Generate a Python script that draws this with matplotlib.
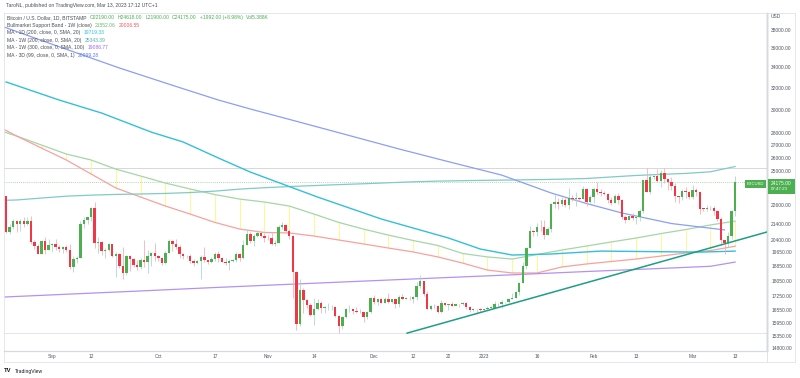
import numpy as np
import matplotlib
matplotlib.use("Agg")
import matplotlib.pyplot as plt
from matplotlib.ticker import NullLocator
from matplotlib.patches import Rectangle

plt.rcParams['font.family'] = ['Liberation Sans', 'DejaVu Sans']

W, H = 800, 378

# daily BTC/USD candles, day 0 = 2022-08-19 ... day 206 = 2023-03-13
first_open = 23210
close = [20840, 21150, 21530, 21400, 21530, 21370, 21570, 20250, 20040, 19560,
         20290, 19800, 20050, 20130, 19960, 19830, 19990, 19800, 18790, 19290,
         19320, 21370, 21650, 21830, 22400, 20180, 20230, 19700, 19800, 20110,
         19420, 19540, 18880, 18490, 19410, 19290, 18920, 18800, 19220, 19080,
         19410, 19590, 19420, 19310, 19060, 19630, 20340, 20160, 19960, 19530,
         19420, 19440, 19130, 19060, 19160, 19380, 19180, 19070, 19260, 19550,
         19330, 19120, 19040, 19160, 19200, 19570, 19330, 20090, 20770, 20290,
         20600, 20810, 20630, 20490, 20480, 20150, 20210, 21150, 21300, 20920,
         20600, 18540, 15880, 17590, 17070, 16810, 16330, 16620, 16900, 16660,
         16690, 16700, 16700, 16280, 15780, 16230, 16600, 16600, 16520, 16460,
         16440, 16220, 16440, 17170, 16980, 17090, 16890, 17110, 16970, 17090,
         16840, 17220, 17130, 17130, 17090, 17210, 17780, 18060, 17360, 16630,
         16780, 16740, 16440, 16900, 16820, 16830, 16780, 16840, 16830, 16920,
         16700, 16540, 16630, 16600, 16540, 16610, 16670, 16670, 16850, 16830,
         16950, 16940, 17120, 17180, 17440, 17940, 18850, 19930, 20950, 20870,
         21170, 21160, 20680, 21070, 22670, 22780, 22710, 22920, 22630, 23060,
         23010, 23080, 23030, 23740, 22830, 23130, 23730, 23490, 23430, 23330,
         22940, 22760, 23250, 22960, 21800, 21630, 21860, 21780, 21790, 22200,
         24330, 23520, 24570, 24630, 24280, 24840, 24440, 24190, 23950, 23190,
         23160, 23560, 23490, 23140, 23640, 23470, 22360, 22350, 22430, 22410,
         22200, 21710, 20360, 20190, 20630, 22190, 24175]
high = [23220, 21380, 21700, 21540, 21670, 21820, 21810, 21870, 20380, 20160,
        20380, 20570, 20470, 20200, 20440, 20050, 20000, 20050, 20160, 19460,
        19450, 21560, 21800, 21840, 22480, 22790, 20540, 20330, 19890, 20180,
        20110, 19660, 19630, 19940, 19490, 19500, 19310, 19180, 19310, 20360,
        19780, 19640, 20170, 19480, 19390, 19700, 20470, 20350, 20450, 20050,
        19610, 19520, 19530, 19250, 19230, 19500, 19940, 19210, 19400, 19670,
        19700, 19360, 19330, 19240, 19250, 19690, 19600, 20400, 21000, 20870,
        20750, 20980, 20930, 20830, 20690, 20800, 20390, 21300, 21470, 21360,
        20990, 20660, 18590, 18140, 17650, 17090, 16890, 17170, 17090, 16990,
        16750, 16880, 16810, 16740, 16300, 16250, 16670, 16800, 16610, 16690,
        16600, 16480, 16530, 17220, 17320, 17100, 17150, 17200, 17420, 17110,
        17130, 17300, 17350, 17220, 17260, 17240, 18000, 18390, 18050, 17530,
        16800, 16870, 16810, 17050, 16920, 16860, 16950, 16870, 16860, 16940,
        16970, 16780, 16650, 16620, 16640, 16630, 16780, 16760, 16990, 16880,
        17040, 16970, 17180, 17390, 17500, 17990, 19100, 19960, 21260, 21000,
        21460, 21620, 21650, 21190, 22750, 23370, 23060, 23170, 23140, 23780,
        23260, 23500, 23160, 23950, 23800, 23310, 23800, 24240, 23690, 23580,
        23430, 23160, 23350, 23450, 22990, 21940, 21890, 22090, 21890, 22310,
        24380, 25250, 24890, 24750, 25150, 25110, 25250, 24470, 24590, 24130,
        23210, 23680, 23870, 23590, 24000, 23780, 23480, 22410, 22610, 22560,
        22540, 22270, 21810, 20360, 20850, 22260, 24618]
low = [20780, 20770, 21080, 20890, 20900, 21150, 21330, 20150, 19850, 19530,
       19570, 19540, 19790, 19650, 19760, 19660, 19600, 19640, 18690, 18540,
       19010, 19300, 21120, 21360, 21570, 19880, 19620, 19510, 19330, 19700,
       19380, 18270, 18780, 18160, 18360, 18610, 18830, 18650, 18680, 18830,
       18480, 18870, 19170, 19170, 18940, 19000, 19600, 19740, 19870, 19330,
       19260, 19320, 19040, 18870, 18970, 18170, 19080, 18990, 19060, 19150,
       19100, 19070, 18910, 18660, 19110, 19080, 19160, 19250, 20060, 20210,
       20000, 20550, 20540, 20250, 20350, 20060, 20040, 20180, 21080, 20890,
       20420, 17170, 15590, 15800, 16390, 16660, 16280, 15830, 16560, 16410,
       16410, 16560, 16560, 16240, 15480, 15630, 16170, 16460, 16350, 16410,
       16400, 16000, 16110, 16430, 16870, 16800, 16880, 16880, 16880, 16910,
       16680, 16730, 17100, 17090, 17070, 16880, 17080, 17660, 17280, 16590,
       16580, 16680, 16400, 16400, 16750, 16560, 16770, 16790, 16720, 16790,
       16600, 16480, 16500, 16340, 16480, 16490, 16550, 16610, 16650, 16750,
       16680, 16910, 16910, 17100, 17150, 17320, 17930, 18720, 19890, 20600,
       20620, 20900, 20420, 20660, 20890, 22430, 22330, 22510, 22480, 22330,
       22850, 22530, 22880, 23000, 22560, 22730, 22760, 23380, 23220, 23260,
       22770, 22630, 22740, 22680, 21690, 21460, 21600, 21640, 21350, 21530,
       22050, 23520, 23350, 24440, 24230, 23860, 24150, 23610, 23640, 22840,
       22730, 22970, 23100, 23040, 23020, 23220, 21990, 22180, 22210, 22270,
       21940, 21580, 20050, 19570, 19950, 20440, 21900]

# weekly series (Mondays), day offsets -4, 3, ..., 206
week_days = np.arange(-4, 207, 7)
bsb_sma = [28400, 27740, 27010, 26300, 25840, 25150, 24640, 24130, 23710, 23320,
           23010, 22810, 22540, 22010, 21470, 21050, 20680, 20350, 20050, 19580,
           19380, 19260, 19520, 19780, 20020, 20260, 20500, 20770, 21020, 21310,
           21552.06]
bsb_ema = [28830, 27740, 26770, 25840, 24790, 23780, 23150, 22540, 22010, 21470,
           21050, 20840, 20810, 20620, 20380, 20140, 19900, 19670, 19380, 19030,
           18640, 18480, 18480, 18810, 18980, 19120, 19260, 19430, 19610, 19750,
           20006.55]
ma200w = [22900, 22950, 23080, 23210, 23280, 23330, 23360, 23400, 23460, 23560,
          23700, 23800, 23880, 23950, 24020, 24080, 24150, 24220, 24270, 24300,
          24330, 24350, 24380, 24410, 24460, 24570, 24680, 24760, 24830, 24950,
          25343.39]

ma300w_days = [-4, 17, 38, 59, 80, 101, 122, 143, 164, 185, 199, 206]
ma300w = [17180, 17350, 17520, 17700, 17870, 18040, 18210, 18380, 18560, 18730,
          18850, 19086.77]

ma200d_days = [0, 15, 27, 41, 50, 60, 69, 88, 106, 125, 134, 143, 154, 168, 196, 206]
ma200d = [32570, 30870, 29700, 28070, 27260, 25990, 24930, 23150, 21690, 20500,
          19840, 19490, 19550, 19720, 19660, 19719.33]

ma99_days = [-1, 14, 32, 47, 60, 69, 80, 95, 111, 125, 140, 154, 164, 174, 188, 203]
ma99 = [38400, 36290, 33950, 32250, 30870, 30060, 29150, 27940, 26700, 25710,
        24710, 23430, 22710, 22080, 21400, 20999.28]

trend_days = [113.3, 215]
trend_vals = [15460, 20870]

price_ticks = [38000, 36000, 34000, 32000, 30000, 28000, 27000, 26000, 25000,
               22600, 21400, 20400, 19650, 18850, 18050, 17250, 16550, 15950,
               15350, 14800]
date_ticks = [13, 24, 43, 59, 74, 87, 104, 115, 125, 135, 150, 166, 178, 194, 206]
date_labels = ["Sep", "12", "Oct", "17", "Nov", "14", "Dec", "12", "22", "2023",
               "16", "Feb", "13", "Mar", "13"]

fig = plt.figure(figsize=(W / 100, H / 100), dpi=100)
ax = fig.add_axes([4 / W, 1 - 351 / H, 763 / W, 338 / H])
ax.set_yscale('log')
ax.set_xlim(-0.6, 215)
ax.set_ylim(14661, 39966)

# horizontal helper lines
ax.axhline(25221, color='#d6d8de', lw=0.7, zorder=1)
ax.axhline(15466, color='#e3e5ea', lw=0.7, zorder=1)
ax.axhline(close[-1], color='#4caf50', lw=0.6, ls=(0, (1, 1.5)), alpha=0.6, zorder=1)

# bull market support band
wd = np.array(week_days)
g = np.array(bsb_sma)
r = np.array(bsb_ema)
ax.vlines(wd, np.minimum(g, r), np.maximum(g, r), color='#fff59d', lw=0.8, zorder=1)
ax.plot(wd, g, color='#a5d6a7', lw=0.9, zorder=2)
ax.plot(wd, r, color='#f7a29d', lw=0.9, zorder=2)

ax.plot(wd, ma200w, color='#80cbc4', lw=0.9, zorder=2)
ax.plot(ma300w_days, ma300w, color='#b392f0', lw=0.9, zorder=2)
ax.plot(ma200d_days, ma200d, color='#33bfdc', lw=1.0, zorder=2)
ax.plot(ma99_days, ma99, color='#8c9ef5', lw=0.9, zorder=2)

# candles
c = np.array(close, dtype=float)
o = np.concatenate([[first_open], c[:-1]])
hi = np.array(high, dtype=float)
lo = np.array(low, dtype=float)
days = np.arange(len(c))
up = c >= o
ax.vlines(days[up], lo[up], hi[up], color='#a9d4cc', lw=0.55, zorder=3)
ax.vlines(days[~up], lo[~up], hi[~up], color='#f6a9b1', lw=0.55, zorder=3)
bottom = np.minimum(o, c)
height = np.maximum(np.abs(c - o), bottom * 0.0012)
ax.bar(days[up], height[up], bottom=bottom[up], width=0.68, color='#4caf50', lw=0, zorder=4)
ax.bar(days[~up], height[~up], bottom=bottom[~up], width=0.68, color='#f23645', lw=0, zorder=4)

# trend line
ax.plot(trend_days, trend_vals, color='#1e9e86', lw=1.1, zorder=5)

# axes styling
ax.yaxis.tick_right()
ax.yaxis.set_minor_locator(NullLocator())
ax.set_yticks(price_ticks)
ax.set_yticklabels([f"{v}.00" for v in price_ticks])
ax.set_xticks(date_ticks)
ax.set_xticklabels(date_labels)
ax.tick_params(axis='y', length=0, labelsize=3.5, labelcolor='#50535e', pad=3)
ax.tick_params(axis='x', length=0, labelsize=3.4, labelcolor='#50535e', pad=2.5)
for s in ['left', 'top']:
    ax.spines[s].set_color('#e0e3eb')
    ax.spines[s].set_linewidth(0.6)
ax.spines['right'].set_color('#a3a6af')
ax.spines['right'].set_linewidth(1.0)
ax.spines['bottom'].set_color('#a3a6af')
ax.spines['bottom'].set_linewidth(0.8)

# outer frame of price / time scales
fig.add_artist(Rectangle((767 / W, 1 - 362 / H), 28 / W, 349 / H, transform=fig.transFigure,
                         fill=False, ec='#e0e3eb', lw=0.6))
fig.add_artist(Rectangle((4 / W, 1 - 362 / H), 763 / W, 11 / H, transform=fig.transFigure,
                         fill=False, ec='#e0e3eb', lw=0.6))
fig.text(771 / W, 1 - 17 / H, "USD", fontsize=3.5, color='#50535e', va='center')

# last price tags
fig.add_artist(Rectangle((768 / W, 1 - 194 / H), 27 / W, 15 / H, transform=fig.transFigure,
                         color='#4caf50', lw=0))
fig.text(771 / W, 1 - 183 / H, "24175.00", fontsize=3.5, color='white', va='center')
fig.text(771 / W, 1 - 189.5 / H, "07:47:23", fontsize=3.2, color='white', va='center')
fig.add_artist(Rectangle((745 / W, 1 - 188 / H), 21 / W, 7.5 / H, transform=fig.transFigure,
                         color='#4caf50', lw=0))
fig.text(755.5 / W, 1 - 184.2 / H, "BTCUSD", fontsize=3.0, color='white', va='center', ha='center')


def text_row(parts, x, y, size=3.6):
    t = ax.annotate(parts[0][0], xy=(x, H - y), xycoords='figure pixels', color=parts[0][1],
                    fontsize=size, va='center', ha='left', annotation_clip=False)
    for s, col in parts[1:]:
        t = ax.annotate(s, xy=(1, 0.5), xycoords=t, xytext=(2.2, 0), textcoords='offset points',
                        color=col, fontsize=size, va='center', ha='left', annotation_clip=False)


GRAY = '#4a4d57'
GREEN = '#4caf50'
text_row([("TaroNL, published on TradingView.com, Mar 13, 2023 17:12 UTC+1", GRAY)], 6, 6)
text_row([("Bitcoin / U.S. Dollar, 1D, BITSTAMP", GRAY), ("O22190.00", GREEN),
          ("H24618.00", GREEN), ("L21900.00", GREEN), ("C24175.00", GREEN),
          ("+1992.00 (+8.98%)", GREEN), ("Vol5.388K", GREEN)], 7, 17.5)
text_row([("Bullmarket Support Band - 1W (close)", GRAY), ("21552.06", '#66bb6a'),
          ("20006.55", '#f7525f')], 7, 25.1)
text_row([("MA - 1D (200, close, 0, SMA, 20)", GRAY), ("19719.33", '#26c6da')], 7, 32.7)
text_row([("MA - 1W (200, close, 0, SMA, 20)", GRAY), ("25343.39", '#4db6ac')], 7, 40.3)
text_row([("MA - 1W (300, close, 0, SMA, 100)", GRAY), ("19086.77", '#9c6bff')], 7, 47.9)
text_row([("MA - 3D (99, close, 0, SMA, 1)", GRAY), ("20999.28", '#5b7cf7')], 7, 55.5)

fig.text(4 / W, 1 - 371 / H, "TV", fontsize=4.2, fontweight='bold', color='#131722', va='center')
fig.text(15 / W, 1 - 371 / H, "TradingView", fontsize=3.6, color='#131722', va='center')

fig.savefig("out.png", dpi=100)
